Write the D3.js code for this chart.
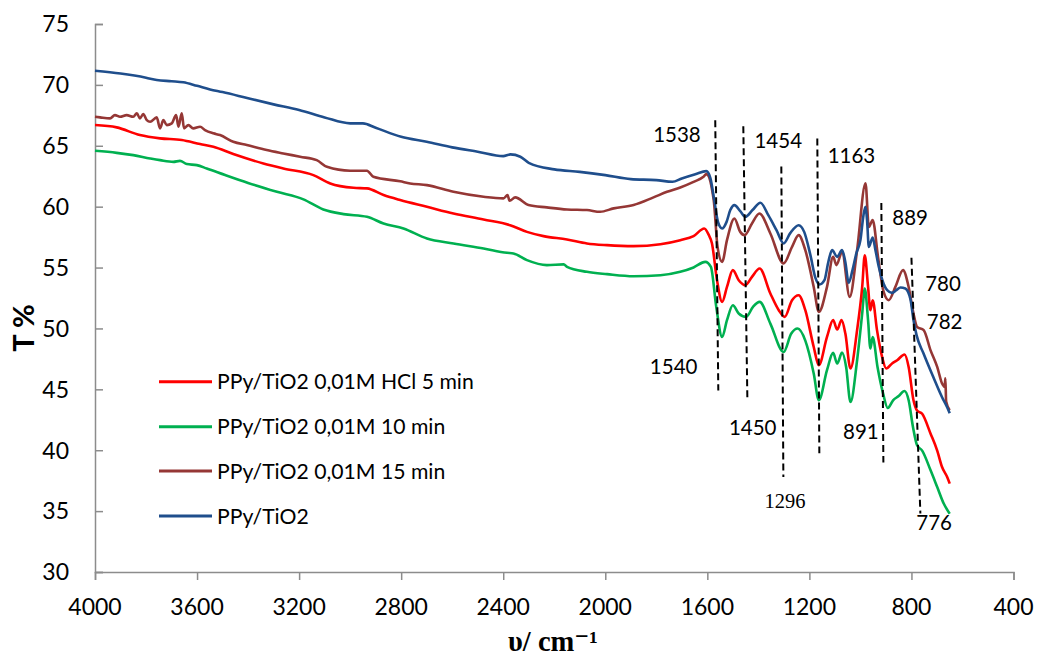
<!DOCTYPE html>
<html>
<head>
<meta charset="utf-8">
<script src="https://cdn.jsdelivr.net/npm/d3@7"></script>
<style>
  html, body { margin: 0; padding: 0; background: #ffffff; }
  svg { display: block; }
</style>
</head>
<body>
<svg id="chart" width="1038" height="662"></svg>
<script>
// ---------------- DATA ----------------
const seriesNames = ["PPy/TiO2 0,01M HCl 5 min", "PPy/TiO2 0,01M 10 min", "PPy/TiO2 0,01M 15 min", "PPy/TiO2"];

const xTicks = [4000, 3600, 3200, 2800, 2400, 2000, 1600, 1200, 800, 400];
const yTicks = [30, 35, 40, 45, 50, 55, 60, 65, 70, 75];

// [wavenumber cm-1, T %]
const hcl5min = [
  [4000,66.70],[3915,66.51],[3824,65.88],[3745,65.61],[3660,65.47],[3588,65.14],[3536,64.92],[3458,64.32],
  [3340,63.55],[3262,63.14],[3144,62.59],[3078,61.91],[2987,61.55],[2934,61.50],[2869,60.95],[2804,60.54],
  [2699,59.99],[2595,59.44],[2477,58.95],[2373,58.48],[2307,57.93],[2242,57.58],[2150,57.31],[2072,56.98],
  [1993,56.84],[1889,56.76],[1784,56.92],[1706,57.25],[1654,57.58],[1612,58.21],[1595,57.70],[1582,57.00],
  [1562,53.96],[1542,52.18],[1523,53.41],[1500,54.79],[1477,53.96],[1451,53.55],[1425,54.24],[1395,54.92],
  [1353,52.87],[1320,51.50],[1297,50.95],[1268,52.32],[1242,52.73],[1216,51.50],[1183,48.48],[1163,46.98],
  [1131,49.30],[1107,50.68],[1091,49.91],[1074,50.68],[1059,49.58],[1039,46.71],[1013,49.86],[993,53.41],
  [983,56.00],[970,53.41],[961,51.50],[952,52.32],[935,49.86],[915,47.66],[899,46.71],[876,47.12],
  [856,47.39],[827,47.86],[811,46.84],[792,44.10],[778,43.26],[758,42.99],[725,41.36],[699,39.97],
  [680,38.62],[660,37.80],[650,37.26]
];

const min10 = [
  [4000,64.59],[3915,64.42],[3850,64.23],[3784,63.96],[3745,63.82],[3693,63.68],[3667,63.76],[3640,63.50],
  [3601,63.41],[3562,63.14],[3490,62.60],[3400,61.95],[3287,61.22],[3183,60.60],[3105,59.77],[3026,59.39],
  [2934,59.17],[2869,58.62],[2791,58.21],[2699,57.39],[2595,56.98],[2477,56.57],[2385,56.21],[2360,56.16],
  [2307,55.61],[2229,55.20],[2163,55.26],[2150,55.06],[2072,54.65],[1993,54.46],[1889,54.29],[1784,54.37],
  [1706,54.65],[1654,55.01],[1608,55.47],[1586,55.06],[1565,51.77],[1542,49.30],[1523,50.68],[1500,51.91],
  [1477,51.23],[1448,50.95],[1421,51.77],[1395,52.18],[1353,50.40],[1301,48.07],[1271,49.58],[1246,49.99],
  [1216,49.00],[1183,46.30],[1163,44.10],[1131,46.57],[1107,47.99],[1091,47.12],[1072,48.02],[1056,46.84],
  [1039,43.96],[1013,47.39],[993,51.23],[983,53.28],[970,50.68],[961,48.35],[952,49.30],[933,46.84],
  [911,44.65],[893,43.47],[872,44.10],[850,44.45],[827,44.86],[811,44.10],[794,41.91],[778,40.41],
  [758,39.97],[725,38.35],[699,36.98],[673,35.60],[650,34.79]
];

const min15 = [
  [4000,67.38],[3980,67.33],[3941,67.25],[3922,67.52],[3902,67.38],[3876,67.52],[3850,67.38],[3836,67.66],
  [3824,67.25],[3811,67.60],[3797,67.11],[3784,66.97],[3758,67.33],[3745,66.43],[3732,67.11],[3719,66.70],
  [3699,66.84],[3682,67.52],[3673,66.56],[3660,67.66],[3651,66.43],[3634,66.70],[3615,66.43],[3588,66.56],
  [3569,66.29],[3536,66.02],[3510,65.88],[3458,65.33],[3405,65.06],[3327,64.65],[3262,64.37],[3196,64.10],
  [3131,63.82],[3091,63.27],[3000,62.95],[2934,62.95],[2909,62.45],[2804,62.08],[2765,61.91],[2699,61.77],
  [2595,61.22],[2477,60.81],[2399,60.68],[2383,60.95],[2375,60.48],[2353,60.76],[2301,60.13],[2229,59.94],
  [2150,59.77],[2072,59.72],[2020,59.58],[1967,59.86],[1889,60.13],[1811,60.76],[1758,61.22],[1706,61.58],
  [1654,62.04],[1615,62.45],[1604,62.67],[1575,60.54],[1560,56.70],[1542,55.47],[1523,57.25],[1494,59.03],
  [1471,57.93],[1454,57.66],[1425,58.62],[1396,59.44],[1353,57.80],[1301,55.34],[1268,56.70],[1242,57.66],
  [1216,56.43],[1183,53.41],[1163,51.36],[1131,53.41],[1107,55.88],[1094,55.20],[1072,56.29],[1042,52.59],
  [1013,56.43],[980,61.91],[967,58.34],[952,58.90],[931,55.88],[909,53.00],[889,52.32],[863,53.41],
  [833,54.79],[811,53.41],[792,51.23],[778,50.13],[752,49.86],[725,48.20],[699,46.84],[680,45.48],
  [670,45.20],[667,45.90],[664,44.00],[650,43.28]
];

const ppyTiO2 = [
  [4000,71.16],[3900,70.93],[3800,70.59],[3758,70.40],[3700,70.30],[3654,70.21],[3600,69.92],[3549,69.63],
  [3500,69.41],[3400,68.90],[3300,68.40],[3200,67.93],[3100,67.33],[3000,66.84],[2950,66.84],[2900,66.48],
  [2800,65.74],[2700,65.33],[2600,64.87],[2500,64.51],[2400,64.15],[2372,64.29],[2333,64.10],[2300,63.60],
  [2200,63.06],[2100,62.86],[2000,62.59],[1900,62.26],[1800,62.18],[1737,62.04],[1700,62.32],[1647,62.67],
  [1604,62.92],[1588,62.35],[1573,60.54],[1558,58.73],[1542,58.21],[1525,58.73],[1510,59.72],[1494,60.13],
  [1471,59.63],[1451,59.17],[1423,59.72],[1392,60.32],[1361,59.30],[1329,58.07],[1301,56.98],[1275,57.83],
  [1242,58.48],[1220,57.91],[1196,56.02],[1176,54.13],[1160,53.61],[1141,53.96],[1126,55.44],[1111,56.43],
  [1091,55.88],[1072,56.43],[1059,55.44],[1046,53.74],[1031,54.79],[1016,56.16],[1000,57.25],[988,59.30],
  [980,59.99],[974,58.90],[967,56.70],[952,57.47],[941,56.43],[928,55.06],[914,53.96],[895,53.14],
  [876,52.92],[859,53.14],[843,53.36],[824,53.28],[804,52.40],[792,50.70],[780,49.45],[753,47.96],
  [714,45.99],[680,44.35],[660,43.53],[650,43.04]
];

// dashed marker lines: [wavenumber top, T top, wavenumber bottom, T bottom]
const markerLines = [
  [1569,67.1,1557,44.9],
  [1459,66.6,1443,44.1],
  [1310,63.3,1302,37.8],
  [1169,65.6,1161,39.75],
  [918,60.3,910,39.0],
  [800,55.8,765,34.8]
];

// peak labels: [text, wavenumber, T]
const peakLabels = [
  ["1538",1719,65.33],["1454",1322,64.81],["1163",1035,63.55],["889",805,58.48],
  ["780",676,53.09],["782",670,49.94],["1540",1732,46.24],["1450",1422,41.23],
  ["891",998,40.90],["776",711,33.42]
];
const serifLabels = [["1296",1296,35.29]];

// ---------------- DRAW ----------------
const svg = d3.select("#chart");
const x = d3.scaleLinear().domain([4000, 400]).range([95, 1013.5]);
const y = d3.scaleLinear().domain([30, 75]).range([572, 24]);

const colors = ["#ff0000", "#00b050", "#953735", "#1f4e8c"];
const datasets = [hcl5min, min10, min15, ppyTiO2];

const axisColor = "#8c8c8c";
const font = "Lato, 'Open Sans', sans-serif";

// axes
const yAxis = d3.axisRight(y).tickValues(yTicks).tickSize(8).tickFormat("");
const gy = svg.append("g").attr("transform", "translate(95,0)").call(yAxis);
gy.select(".domain").attr("stroke", axisColor).attr("stroke-width", 1.5);
gy.selectAll(".tick line").attr("stroke", axisColor).attr("stroke-width", 1.5);

const xAxis = d3.axisBottom(x).tickValues(xTicks).tickSize(8).tickFormat("");
const gx = svg.append("g").attr("transform", "translate(0,572)").call(xAxis);
gx.select(".domain").attr("stroke", axisColor).attr("stroke-width", 1.5);
gx.selectAll(".tick line").attr("stroke", axisColor).attr("stroke-width", 1.5);

// tick labels
svg.append("g").selectAll("text").data(yTicks).join("text")
  .attr("x", 69).attr("y", d => y(d)).attr("dy", "0.36em")
  .attr("text-anchor", "end")
  .attr("font-family", font).attr("font-size", 23).attr("fill", "#000")
  .text(d => d);

svg.append("g").selectAll("text").data(xTicks).join("text")
  .attr("x", d => x(d)).attr("y", 615)
  .attr("text-anchor", "middle")
  .attr("font-family", font).attr("font-size", 23).attr("fill", "#000")
  .text(d => d);

// axis titles
svg.append("text")
  .attr("transform", "translate(34,328) rotate(-90)")
  .attr("text-anchor", "middle")
  .attr("font-family", font).attr("font-weight", "bold").attr("font-size", 29)
  .text("T %");

svg.append("text")
  .attr("x", 553).attr("y", 651)
  .attr("text-anchor", "middle")
  .attr("font-family", "'Liberation Serif', 'DejaVu Serif', serif").attr("font-weight", "bold").attr("font-size", 28.5)
  .text("υ/ cm⁻¹");

// series lines
const line = d3.line().x(d => x(d[0])).y(d => y(d[1])).curve(d3.curveMonotoneX);
const order = [1, 0, 2, 3];
order.forEach(i => {
  svg.append("path")
    .datum(datasets[i])
    .attr("d", line)
    .attr("fill", "none")
    .attr("stroke", colors[i])
    .attr("stroke-width", 2.6)
    .attr("stroke-linejoin", "round");
});

// dashed markers
svg.append("g").selectAll("line").data(markerLines).join("line")
  .attr("x1", d => x(d[0])).attr("y1", d => y(d[1]))
  .attr("x2", d => x(d[2])).attr("y2", d => y(d[3]))
  .attr("stroke", "#000").attr("stroke-width", 2)
  .attr("stroke-dasharray", "7,4");

// peak labels
svg.append("g").selectAll("text").data(peakLabels).join("text")
  .attr("x", d => x(d[1])).attr("y", d => y(d[2]))
  .attr("text-anchor", "middle")
  .attr("font-family", font).attr("font-size", 20.5).attr("fill", "#000")
  .text(d => d[0]);

svg.append("g").selectAll("text").data(serifLabels).join("text")
  .attr("x", d => x(d[1])).attr("y", d => y(d[2]))
  .attr("text-anchor", "middle")
  .attr("font-family", "'Liberation Serif', serif").attr("font-size", 20.5).attr("fill", "#000")
  .text(d => d[0]);

// legend
const legend = svg.append("g");
const legendY = [381.7, 426.7, 471, 516];
seriesNames.forEach((name, i) => {
  legend.append("line")
    .attr("x1", 159).attr("x2", 212).attr("y1", legendY[i]).attr("y2", legendY[i])
    .attr("stroke", colors[i]).attr("stroke-width", 3);
  legend.append("text")
    .attr("x", 217).attr("y", legendY[i]).attr("dy", "0.36em")
    .attr("font-family", font).attr("font-size", 21.2).attr("fill", "#000")
    .text(name);
});
</script>
</body>
</html>
